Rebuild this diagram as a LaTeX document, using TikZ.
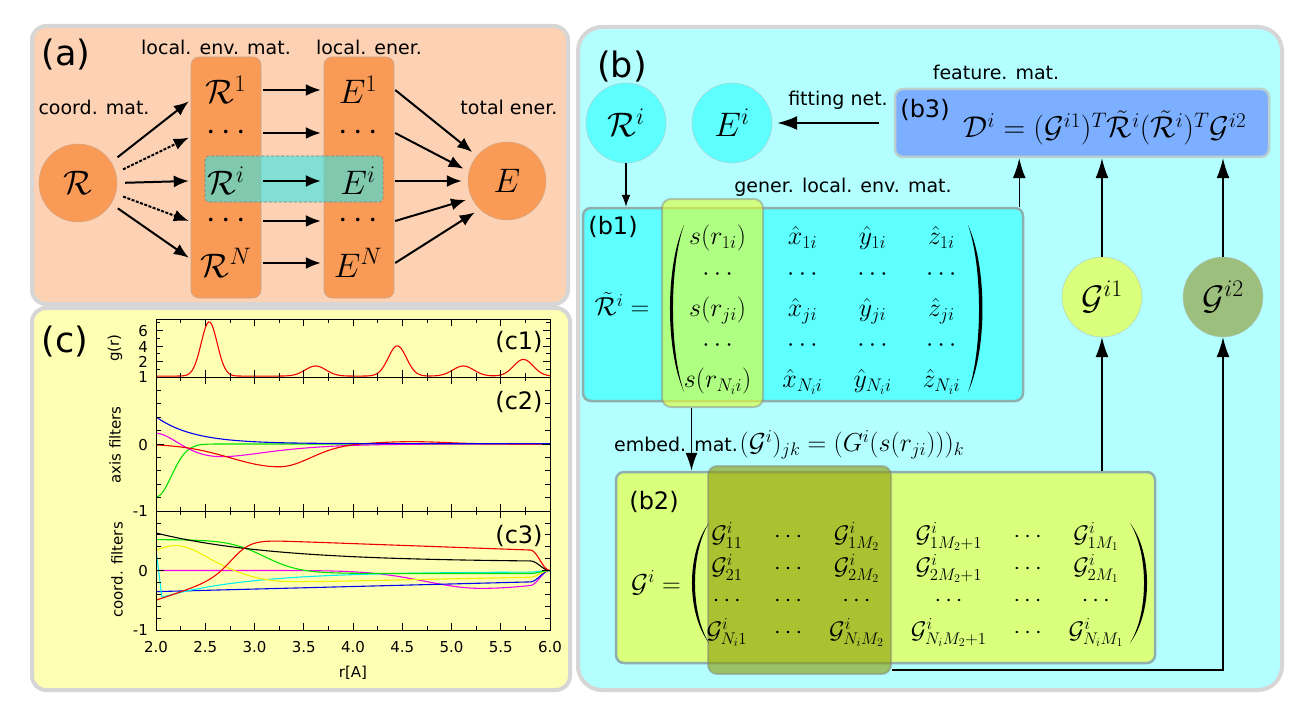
\RequirePackage{fix-cm}
\documentclass[tikz,border=0pt]{standalone}
\usepackage{fontspec}
\newfontfamily\lab{DejaVu Sans}
\usetikzlibrary{arrows.meta}
\definecolor{panelgray}{HTML}{D6D6D6}
\definecolor{peach}{HTML}{FDD2B4}
\definecolor{orangeN}{HTML}{F99B57}
\definecolor{cyanbg}{HTML}{B3FFFF}
\definecolor{cyanN}{HTML}{5DFFFF}
\definecolor{blueN}{HTML}{7CAFFF}
\definecolor{limeN}{HTML}{D9FF7C}
\definecolor{oliveN}{HTML}{9CBF7D}
\definecolor{yellowbg}{HTML}{FFFFB4}
\definecolor{boxedge}{HTML}{8FAFAF}
\definecolor{coledge}{HTML}{C9A488}
\definecolor{hlcyan}{HTML}{30E8E8}
\definecolor{hlyel}{HTML}{E6FF30}
\definecolor{hlolive}{HTML}{8C9A00}
\definecolor{pgreen}{HTML}{00E000}
\definecolor{pyellow}{HTML}{F0F000}
\definecolor{pcyan}{HTML}{00F0F0}
\definecolor{pmag}{HTML}{F000F0}
\definecolor{pred}{HTML}{F00000}
\definecolor{pblue}{HTML}{0000F0}
\begin{document}
\begin{tikzpicture}[x=1pt,y=-1pt,
  declare function={
    gs(\p,\m,\s)=exp(-min(((\p-\m)/\s)*((\p-\m)/\s),25));
    lg(\p,\q,\w)=1/(1+exp(-max(min((\p-\q)/\w,9),-9)));
    tp(\p)=ifthenelse(\p<5.8,1,0.5+0.5*cos(900*(\p-5.8)));
    px(\p)=156+98.5*(\p-2);
  },
  panel/.style={draw=panelgray, line width=4pt},
  big/.style={font=\lab\fontsize{35}{40}\selectfont, inner sep=0},
  sub/.style={font=\lab\fontsize{24}{28}\selectfont, inner sep=0},
  lbl/.style={font=\lab\fontsize{19}{22}\selectfont, inner sep=0},
  tick/.style={font=\lab\fontsize{15}{18}\selectfont, inner sep=0},
  mA/.style={font=\fontsize{34}{40}\selectfont},
  mB/.style={font=\fontsize{26}{31}\selectfont, inner sep=0},
  mC/.style={font=\fontsize{24}{29}\selectfont, inner sep=0},
  mF/.style={font=\fontsize{30}{36}\selectfont, inner sep=0},
  colbox/.style={draw=coledge, fill=orangeN, rounded corners=8pt, line width=0.6pt},
  ent/.style={mA, minimum width=74pt, minimum height=30pt, inner sep=0},
  orcirc/.style={circle, draw=coledge, fill=orangeN, minimum size=78pt, inner sep=0, mA},
  cyc/.style={circle, draw=boxedge!70, fill=cyanN, minimum size=80pt, inner sep=0, mA},
  gc/.style={circle, draw=boxedge!70, minimum size=80pt, inner sep=0, mA},
  bbox/.style={draw=boxedge, line width=2.5pt, rounded corners=8pt},
  hlbox/.style={rounded corners=9pt, fill opacity=0.6, draw=gray, draw opacity=0.45, line width=2pt},
  arr/.style={line width=2pt, -{Latex[length=15pt,width=12pt]}},
  barr/.style={line width=1.2pt, -{Latex[length=12pt,width=9pt]}},
  uarr/.style={line width=1.4pt, -{Latex[length=20pt,width=13pt]}},
  farr/.style={line width=2pt, -{Latex[length=20pt,width=14pt]}},
  crv/.style={line width=1.1pt},
  tk/.style={line width=0.7pt, black},
]
\useasboundingbox (0,0) rectangle (1307,706);
\fill[white] (0,0) rectangle (1307,706);

% ---------------- panels
\draw[panel, fill=peach, rounded corners=14pt] (32,26) rectangle (568,304);
\draw[panel, fill=yellowbg, rounded corners=14pt] (32,308) rectangle (570,690);
\draw[panel, fill=cyanbg, rounded corners=24pt] (578,27) rectangle (1282,690);

% ---------------- panel (a)
\node[big] (la) at (66,55) {(a)};
\node[lbl] (t1) at (216,47) {local. env. mat.};
\node[lbl] (t2) at (369,47) {local. ener.};
\node[lbl] (t3) at (94,107) {coord. mat.};
\node[lbl] (t4) at (509,107) {total ener.};
\node[colbox, minimum width=70pt, minimum height=241pt] (colR) at (226,177.5) {};
\node[colbox, minimum width=70pt, minimum height=241pt] (colE) at (359,177.5) {};
\node[rounded corners=4pt, fill=hlcyan, fill opacity=0.6, draw=gray, densely dashed, line width=0.6pt,
      minimum width=178pt, minimum height=46pt] (hla) at (294,179) {};
\node[orcirc] (R) at (78,183) {$\mathcal{R}$};
\node[orcirc] (E) at (507,181) {$E$};
\node[ent] (r1) at (226,90) {$\mathcal{R}^1$};
\node[ent] (rd1) at (226,133) {$\cdots$};
\node[ent] (ri) at (226,181) {$\mathcal{R}^i$};
\node[ent] (rd2) at (226,221) {$\cdots$};
\node[ent] (rN) at (226,263) {$\mathcal{R}^N$};
\node[ent] (e1) at (358,90) {$E^1$};
\node[ent] (ed1) at (358,133) {$\cdots$};
\node[ent] (ei) at (358,181) {$E^i$};
\node[ent] (ed2) at (358,221) {$\cdots$};
\node[ent] (eN) at (358,263) {$E^N$};
\draw[arr, shorten <=8pt] (R.32) -- (r1.197);
\draw[arr, dash pattern=on 3pt off 1.5pt, shorten <=8pt] (R.15) -- (rd1.187);
\draw[arr, shorten <=8pt] (R.0) -- (ri.west);
\draw[arr, dash pattern=on 3pt off 1.5pt, shorten <=8pt] (R.-16) -- (rd2.180);
\draw[arr, shorten <=8pt] (R.-32) -- (rN.172);
\draw[arr] (r1.east) -- (e1.west);
\draw[arr] (rd1.east) -- (ed1.west);
\draw[arr] (ri.east) -- (ei.west);
\draw[arr] (rd2.east) -- (ed2.west);
\draw[arr] (rN.east) -- (eN.west);
\draw[arr, shorten >=6pt] (e1.east) -- (E.140);
\draw[arr, shorten >=6pt] (ed1.east) -- (E.166);
\draw[arr, shorten >=6pt] (ei.east) -- (E.180);
\draw[arr, shorten >=6pt] (ed2.east) -- (E.206);
\draw[arr, shorten >=6pt] (eN.east) -- (E.226);

% ---------------- panel (b)
\node[big] (lb) at (622,67) {(b)};
\node[bbox, fill=blueN, draw=boxedge!60, minimum width=374pt, minimum height=68pt] (b3) at (1082,123) {};
\node[bbox, fill=cyanN, minimum width=440pt, minimum height=193pt] (b1) at (803,304.5) {};
\node[bbox, fill=limeN, minimum width=539pt, minimum height=191pt] (b2) at (885.5,567.5) {};
\node[hlbox, fill=hlyel, minimum width=101pt, minimum height=208pt] (hl1) at (712.5,303) {};
\node[hlbox, fill=hlolive, minimum width=183pt, minimum height=208pt] (hl2) at (799.5,570) {};
\node[cyc] (Ri) at (626,123) {$\mathcal{R}^i$};
\node[cyc] (Ei) at (732,123) {$E^i$};
\node[gc, fill=limeN] (G1) at (1102,297) {$\mathcal{G}^{i1}$};
\node[gc, fill=oliveN] (G2) at (1223,297) {$\mathcal{G}^{i2}$};

\node[lbl] (fn) at (838,100) {fitting net.};
\node[lbl] (fm) at (996,72) {feature. mat.};
\node[sub] (lb3) at (925,110) {(b3)};
\node[mF] (D) at (1105,128) {$\mathcal{D}^i=(\mathcal{G}^{i1})^T\tilde{\mathcal{R}}^i(\tilde{\mathcal{R}}^i)^T\mathcal{G}^{i2}$};
\node[lbl] (gl) at (843,187) {gener. local. env. mat.};
\node[sub] (lb1) at (613,227) {(b1)};
\node[mB] (Rt) at (622,304) {$\tilde{\mathcal{R}}^i =$};
\node[mB] (M1) at (822,309) {\arraycolsep=15.5pt\def\arraystretch{1.15}$\left.\begin{array}{cccc}
s(r_{1i}) & \hat{x}_{1i} & \hat{y}_{1i} & \hat{z}_{1i}\\
\cdots & \cdots & \cdots & \cdots\\
s(r_{ji}) & \hat{x}_{ji} & \hat{y}_{ji} & \hat{z}_{ji}\\
\cdots & \cdots & \cdots & \cdots\\
s(r_{N_ii}) & \hat{x}_{N_ii} & \hat{y}_{N_ii} & \hat{z}_{N_ii}
\end{array}\right.$};
% matrix parentheses of (b1)
\fill (684,225) .. controls (665.3,267) and (665.3,350) .. (684,392) .. controls (669.3,350) and (669.3,267) .. (684,225) -- cycle;
\fill (968,225) .. controls (987.3,267) and (987.3,350) .. (968,392) .. controls (982.7,350) and (982.7,267) .. (968,225) -- cycle;
\node[anchor=west, inner sep=0] (em) at (614,445) {{\lab\fontsize{19}{22}\selectfont embed. mat.}\,{\fontsize{26}{30}\selectfont$(\mathcal{G}^i)_{jk}=(G^i(s(r_{ji})))_k$}};
\node[sub] (lb2) at (654,502) {(b2)};
\node[mB] (Gt) at (656,583) {$\mathcal{G}^i =$};
\node[mC] (M2) at (915,584) {\arraycolsep=13.5pt\def\arraystretch{1.1}$\left.\begin{array}{cccccc}
\mathcal{G}^i_{11} & \cdots & \mathcal{G}^i_{1M_2} & \mathcal{G}^i_{1M_2+1} & \cdots & \mathcal{G}^i_{1M_1}\\
\mathcal{G}^i_{21} & \cdots & \mathcal{G}^i_{2M_2} & \mathcal{G}^i_{2M_2+1} & \cdots & \mathcal{G}^i_{2M_1}\\
\cdots & \cdots & \cdots & \cdots & \cdots & \cdots\\
\mathcal{G}^i_{N_i1} & \cdots & \mathcal{G}^i_{N_iM_2} & \mathcal{G}^i_{N_iM_2+1} & \cdots & \mathcal{G}^i_{N_iM_1}
\end{array}\right.$};
% matrix parentheses of (b2)
\fill (709,523) .. controls (686.3,553) and (686.3,613) .. (709,643) .. controls (690.3,613) and (690.3,553) .. (709,523) -- cycle;
\fill (1130,523) .. controls (1152.7,553) and (1152.7,613) .. (1130,643) .. controls (1148.7,613) and (1148.7,553) .. (1130,523) -- cycle;

\draw[barr] (Ri.south) -- (Ri.south |- b1.north);
\draw[farr, shorten <=15pt, shorten >=5pt] (b3.west) -- (Ei.east);
\draw[uarr] ([xshift=-5pt]b1.north east) -- ([xshift=-5pt]b1.north east |- b3.south);
\draw[uarr] (G1.north) -- (G1.north |- b3.south);
\draw[uarr] (G2.north) -- (G2.north |- b3.south);
\draw[uarr] (b2.north -| G1) -- (G1.south);
\draw[uarr] ([yshift=5pt]hl2.south east) -| (G2.south);
\draw[line width=1.4pt, -{Latex[length=18pt,width=12pt]}] ([xshift=-21pt]hl1.south) -- ([xshift=-21pt]hl1.south |- b2.north);

% ---------------- panel (c)
\node[big] (lc) at (65,342) {(c)};
\begin{scope}
\clip (156,319) rectangle (550,377);
\draw[crv, pred] plot[domain=2:6, samples=241] ({px(\x)},{377-7.75*(0.12+7.0*gs(\x,2.54,0.115)+1.3*gs(\x,3.62,0.15)+3.9*gs(\x,4.45,0.13)+1.3*gs(\x,5.12,0.15)+2.15*gs(\x,5.73,0.14))});
\end{scope}
\begin{scope}
\clip (156,377) rectangle (550,511);
\draw[crv, pgreen] plot[domain=2:6, samples=201] ({px(\x)},{444-67*(-0.79*gs(\x,2,0.22))});
\draw[crv, pmag] plot[domain=2:6, samples=201] ({px(\x)},{444-67*(0.16*gs(\x,2,0.39)-4.1*(\x-2)*(\x-2)*exp(-(\x-2)/0.3))});
\draw[crv, pred] plot[domain=2:6, samples=201] ({px(\x)},{444-67*(-0.34*gs(\x,3.25,ifthenelse(\x<3.25,0.7,0.45))+0.035*gs(\x,4.6,0.5))});
\draw[crv, pblue] plot[domain=2:6, samples=201] ({px(\x)},{444-67*(0.005+0.40*exp(-(\x-2)/0.38))});
\end{scope}
\begin{scope}
\clip (156,511) rectangle (550,630);
\draw[crv, pmag] plot[domain=2:6, samples=201] ({px(\x)},{570.5-59.5*tp(\x)*(-0.3*gs(\x,5.3,ifthenelse(\x<5.3,0.8,1.2)))});
\draw[crv, pblue] plot[domain=2:6, samples=201] ({px(\x)},{570.5-59.5*tp(\x)*(-0.355+0.043*(\x-2))});
\draw[crv, pcyan] ({px(2)},{570.5-59.5*0.35}) -- plot[domain=2.06:6, samples=201] ({px(\x)},{570.5-59.5*tp(\x)*(-0.02-0.43*exp(-(\x-2.06)/0.9))});
\draw[crv, pyellow] plot[domain=2:6, samples=201] ({px(\x)},{570.5-59.5*tp(\x)*(0.42*gs(\x,2.2,0.42)-0.2*lg(\x,2.95,0.15)+0.035*lg(\x,2.95,0.15)*(\x-3.3))});
\draw[crv, pgreen] plot[domain=2:6, samples=201] ({px(\x)},{570.5-59.5*tp(\x)*(0.52*(1-lg(\x,3.1,0.18))-0.05*lg(\x,3.1,0.18))});
\draw[crv, black] plot[domain=2:6, samples=201] ({px(\x)},{570.5-59.5*tp(\x)*(0.14+0.49*exp(-(\x-2)/1.2))});
\draw[crv, pred] plot[domain=2:6, samples=201] ({px(\x)},{570.5-59.5*tp(\x)*((1-lg(\x,2.8,0.1))*(-0.5+0.55*(\x-2))+lg(\x,2.8,0.1)*(0.5-0.06*(\x-3.2)))});
\end{scope}

% frames
\draw[line width=1pt] (156,319) rectangle (550,630);
\draw[line width=1pt] (156,377) -- (550,377);
\draw[line width=1pt] (156,511) -- (550,511);
% x ticks
\foreach \k in {1,...,15}{
  \pgfmathsetmacro\xx{156+24.625*\k}
  \pgfmathsetmacro\tl{ifthenelse(mod(\k,2)==0,7,4)}
  \draw[tk] (\xx,319) -- ++(0,\tl);
  \draw[tk] (\xx,377) -- ++(0,-\tl);
  \draw[tk] (\xx,377) -- ++(0,\tl);
  \draw[tk] (\xx,511) -- ++(0,-\tl);
  \draw[tk] (\xx,511) -- ++(0,\tl);
  \draw[tk] (\xx,630) -- ++(0,-\tl);
}
% y ticks
\foreach \g in {1,...,7}{
  \pgfmathsetmacro\yy{377-7.75*\g}
  \pgfmathsetmacro\tl{ifthenelse(mod(\g,2)==0,7,4)}
  \draw[tk] (156,\yy) -- ++(\tl,0);
  \draw[tk] (550,\yy) -- ++(-\tl,0);
}
\foreach \v in {-4,...,4}{
  \pgfmathsetmacro\ya{444-67*0.2*\v}
  \pgfmathsetmacro\yb{570.5-59.5*0.2*\v}
  \pgfmathsetmacro\tl{ifthenelse(\v==0,8,5)}
  \draw[tk] (156,\ya) -- ++(\tl,0);
  \draw[tk] (550,\ya) -- ++(-\tl,0);
  \draw[tk] (156,\yb) -- ++(\tl,0);
  \draw[tk] (550,\yb) -- ++(-\tl,0);
}
% tick labels
\node[tick, anchor=east] (y6) at (148,331) {6};
\node[tick, anchor=east] (y4) at (148,347) {4};
\node[tick, anchor=east] (y2) at (148,362) {2};
\node[tick, anchor=east] (y1) at (148,377) {1};
\node[tick, anchor=east] (y0a) at (148,445) {0};
\node[tick, anchor=east] (ym1a) at (148,511) {-1};
\node[tick, anchor=east] (y0b) at (148,571) {0};
\node[tick, anchor=east] (ym1b) at (148,630) {-1};
\foreach \t [count=\i from 0] in {2.0,2.5,3.0,3.5,4.0,4.5,5.0,5.5,6.0}{
  \node[tick] (xl\i) at (156+49.25*\i,647) {\t};
}
\node[tick] (xlab) at (353,673) {r[A]};
\node[tick, rotate=90] (yl1) at (115,348) {g(r)};
\node[tick, rotate=90] (yl2) at (115,445) {axis filters};
\node[tick, rotate=90] (yl3) at (117,570) {coord. filters};
\node[sub] (lc1) at (519,342) {(c1)};
\node[sub] (lc2) at (519,402) {(c2)};
\node[sub] (lc3) at (519,536) {(c3)};
\end{tikzpicture}
\end{document}
